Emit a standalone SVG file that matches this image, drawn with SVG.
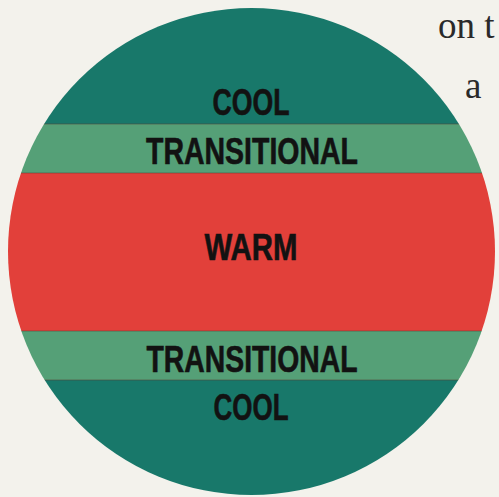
<svg xmlns="http://www.w3.org/2000/svg" width="499" height="497" viewBox="0 0 499 497">
  <defs>
    <clipPath id="disc">
      <circle cx="251.5" cy="251.5" r="243.5"/>
    </clipPath>
    <style>
      .lbl { font-family: "Liberation Sans", Arial, sans-serif; font-weight: bold; font-size: 36px; fill: #121212; stroke: #121212; stroke-width: 0.6; text-anchor: middle; }
      .cool { fill: #18786a; }
      .trans { fill: #55a077; }
      .warm { fill: #e2403a; }
      .edge { stroke: #5a3a30; stroke-width: 1; stroke-opacity: 0.5; }
      .page { font-family: "Liberation Serif", "Times New Roman", serif; font-size: 37px; fill: #2a2a2a; }
    </style>
  </defs>
  <rect width="499" height="497" fill="#f3f2ec"/>
  <text class="page" x="438" y="38">on t</text>
  <text class="page" x="465" y="98">a</text>
  <g clip-path="url(#disc)">
    <g id="cool-top">
      <rect class="cool" x="0" y="0" width="499" height="124"/>
      <text class="lbl" x="251" y="115" textLength="77" lengthAdjust="spacingAndGlyphs">COOL</text>
    </g>
    <g id="transitional-top">
      <rect class="trans" x="0" y="124" width="499" height="49"/>
      <text class="lbl" x="252" y="164" textLength="212" lengthAdjust="spacingAndGlyphs">TRANSITIONAL</text>
    </g>
    <g id="warm">
      <rect class="warm" x="0" y="173" width="499" height="158"/>
      <text class="lbl" x="251" y="260" textLength="93" lengthAdjust="spacingAndGlyphs">WARM</text>
    </g>
    <g id="transitional-bottom">
      <rect class="trans" x="0" y="331" width="499" height="49"/>
      <text class="lbl" x="252" y="372" textLength="211" lengthAdjust="spacingAndGlyphs">TRANSITIONAL</text>
    </g>
    <g id="cool-bottom">
      <rect class="cool" x="0" y="380" width="499" height="117"/>
      <text class="lbl" x="251" y="420" textLength="75" lengthAdjust="spacingAndGlyphs">COOL</text>
    </g>
    <g id="boundaries">
      <line class="edge" x1="0" y1="124" x2="499" y2="124"/>
      <line class="edge" x1="0" y1="173" x2="499" y2="173"/>
      <line class="edge" x1="0" y1="331" x2="499" y2="331"/>
      <line class="edge" x1="0" y1="380" x2="499" y2="380"/>
    </g>
  </g>
</svg>
